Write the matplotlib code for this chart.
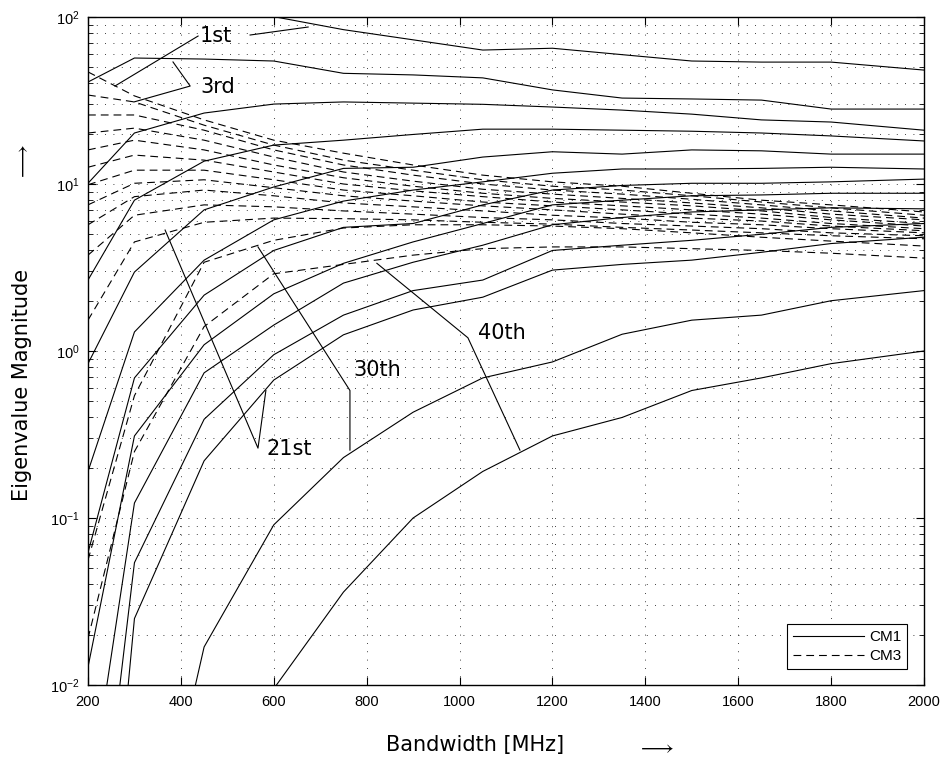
import matplotlib
matplotlib.use("Agg")
import matplotlib.pyplot as plt
from matplotlib.ticker import LogLocator, NullFormatter, MultipleLocator

plt.rcParams["mathtext.fontset"] = "custom"
plt.rcParams["mathtext.rm"] = "Liberation Sans"
plt.rcParams["mathtext.it"] = "Liberation Sans:italic"

# Bandwidth samples [MHz]
bandwidth = [200, 300, 450, 600, 750, 900, 1050, 1200, 1350, 1500, 1650, 1800, 2000]

# CM1 eigenvalues (solid)
cm1_ev01 = [160, 140, 118, 100.5, 84, 73, 63.4, 65, 59.5, 54.5, 53.7, 53.7, 48.1]
cm1_ev03 = [40.8, 56.8, 56, 54.5, 46, 45, 43.2, 36.6, 32.7, 32.3, 31.8, 28.1, 28.1]
cm1_ev05 = [10.1, 20.2, 26.6, 30.1, 31.0, 30.5, 30.0, 28.9, 27.7, 26.2, 24.2, 23.5, 21.0]
cm1_ev07 = [2.66, 8.0, 13.7, 17.1, 18.3, 19.8, 21.3, 21.3, 21.0, 20.7, 20.2, 19.4, 18.1]
cm1_ev09 = [0.84, 2.97, 7.0, 9.6, 12.4, 12.6, 14.5, 15.6, 15.1, 16.0, 15.8, 15.1, 15.1]
cm1_ev11 = [0.19, 1.3, 3.5, 6.1, 7.9, 9.2, 10.3, 11.6, 12.3, 12.3, 12.4, 12.6, 12.3]
cm1_ev13 = [0.062, 0.69, 2.16, 4.0, 5.5, 5.8, 7.5, 9.2, 9.8, 10.1, 10.1, 10.3, 10.7]
cm1_ev15 = [0.0128, 0.31, 1.09, 2.2, 3.35, 4.5, 5.8, 7.5, 8.0, 8.5, 8.6, 8.8, 8.8]
cm1_ev17 = [0.0018, 0.123, 0.74, 1.43, 2.55, 3.4, 4.3, 5.7, 6.3, 6.8, 7.0, 7.2, 7.1]
cm1_ev19 = [2.5e-4, 0.054, 0.39, 0.95, 1.64, 2.3, 2.66, 4.0, 4.3, 4.6, 5.0, 5.5, 5.8]
cm1_ev21 = [2.8e-5, 0.025, 0.22, 0.67, 1.25, 1.76, 2.1, 3.05, 3.3, 3.5, 3.9, 4.4, 4.8]
cm1_ev30 = [1e-6, 2.5e-4, 0.0169, 0.091, 0.23, 0.43, 0.69, 0.86, 1.26, 1.53, 1.64, 2.0, 2.3]
cm1_ev40 = [1e-8, 1e-6, 1e-4, 0.0095, 0.036, 0.1, 0.19, 0.31, 0.40, 0.58, 0.69, 0.84, 1.0]

# CM3 eigenvalues (dashed)
cm3_ev01 = [46.9, 33.7, 24.2, 18.3, 15.3, 13.0, 11.3, 10.3, 9.7, 8.8, 8.0, 7.5, 6.8]
cm3_ev03 = [34.1, 31.0, 22.5, 17.1, 13.9, 12.1, 10.6, 9.7, 9.2, 8.5, 7.8, 7.2, 6.5]
cm3_ev05 = [25.9, 25.9, 21.0, 16.0, 13.0, 11.3, 10.0, 9.2, 8.7, 8.1, 7.5, 6.9, 6.25]
cm3_ev07 = [20.2, 21.6, 18.3, 14.5, 11.8, 10.4, 9.3, 8.7, 8.2, 7.7, 7.2, 6.6, 6.1]
cm3_ev09 = [16.0, 18.3, 16.0, 13.0, 10.9, 9.7, 8.8, 8.2, 7.8, 7.4, 6.9, 6.3, 5.8]
cm3_ev11 = [12.6, 14.9, 13.9, 11.8, 10.0, 9.1, 8.4, 7.8, 7.4, 7.0, 6.6, 6.1, 5.6]
cm3_ev13 = [9.9, 12.1, 12.1, 10.6, 9.2, 8.5, 7.8, 7.4, 7.0, 6.6, 6.25, 5.8, 5.4]
cm3_ev15 = [7.5, 10.1, 10.6, 9.5, 8.5, 7.9, 7.4, 7.0, 6.6, 6.25, 6.0, 5.6, 5.25]
cm3_ev17 = [5.7, 8.4, 9.2, 8.5, 7.7, 7.3, 6.9, 6.5, 6.25, 5.9, 5.7, 5.4, 5.1]
cm3_ev19 = [3.75, 6.5, 7.5, 7.3, 6.9, 6.6, 6.3, 6.1, 5.8, 5.6, 5.4, 5.1, 4.9]
cm3_ev21 = [1.53, 4.5, 5.9, 6.25, 6.2, 6.1, 5.9, 5.75, 5.5, 5.3, 5.1, 4.9, 4.7]
cm3_ev30 = [0.056, 0.54, 3.4, 4.6, 5.45, 5.7, 5.7, 5.6, 5.4, 5.1, 4.8, 4.55, 4.25]
cm3_ev40 = [0.019, 0.25, 1.4, 2.9, 3.3, 3.75, 4.1, 4.2, 4.2, 4.1, 4.0, 3.85, 3.6]

cm1_curves = [cm1_ev01, cm1_ev03, cm1_ev05, cm1_ev07, cm1_ev09, cm1_ev11, cm1_ev13,
              cm1_ev15, cm1_ev17, cm1_ev19, cm1_ev21, cm1_ev30, cm1_ev40]
cm3_curves = [cm3_ev01, cm3_ev03, cm3_ev05, cm3_ev07, cm3_ev09, cm3_ev11, cm3_ev13,
              cm3_ev15, cm3_ev17, cm3_ev19, cm3_ev21, cm3_ev30, cm3_ev40]

series_names = ["CM1", "CM3"]

fig = plt.figure(figsize=(9.48, 7.71), dpi=100)
ax = fig.add_axes([88 / 948, 1 - 685 / 771, 836 / 948, 668 / 771])

for i, ys in enumerate(cm1_curves):
    ax.plot(bandwidth, ys, color="black", lw=0.8,
            label=series_names[0] if i == 0 else None)
for i, ys in enumerate(cm3_curves):
    ax.plot(bandwidth, ys, color="black", lw=0.8, linestyle=(0, (7, 4.5)),
            label=series_names[1] if i == 0 else None)

ax.set_yscale("log")
ax.set_xlim(200, 2000)
ax.set_ylim(1e-2, 1e2)
ax.xaxis.set_major_locator(MultipleLocator(200))
ax.yaxis.set_major_locator(LogLocator(base=10, numticks=10))
ax.yaxis.set_minor_locator(LogLocator(base=10, subs=range(2, 10), numticks=20))
ax.yaxis.set_minor_formatter(NullFormatter())

dots = (0, (1, 9))
ax.grid(which="major", axis="both", linestyle=dots, color="black", lw=0.6)
ax.grid(which="minor", axis="y", linestyle=dots, color="black", lw=0.6)

ax.tick_params(which="both", direction="in", top=True, right=True, labelsize=10.5)
ax.tick_params(axis="x", pad=7)
ax.tick_params(axis="y", pad=6)
ax.tick_params(which="major", length=6, width=0.8)
ax.tick_params(which="minor", length=3.5, width=0.6)
for lbl in ax.get_xticklabels() + ax.get_yticklabels():
    lbl.set_family("Liberation Sans")
for s in ax.spines.values():
    s.set_linewidth(1.0)

# Order labels with leader lines
ann_kw = dict(fontsize=15, va="center", ha="left")
line_kw = dict(color="black", lw=0.8)

ax.text(440, 76.9, "1st", **ann_kw)
ax.plot([437, 258], [76.9, 38.6], **line_kw)
ax.plot([549, 674], [78, 87.1], **line_kw)

ax.text(441, 38.1, "3rd", **ann_kw)
ax.plot([383, 420, 299], [53.8, 38.6, 31.0], **line_kw)

ax.text(585, 0.259, "21st", **ann_kw)
ax.plot([366, 566, 583], [5.3, 0.262, 0.58], **line_kw)

ax.text(771, 0.77, "30th", **ann_kw)
ax.plot([566, 764, 764], [4.2, 0.58, 0.255], **line_kw)

ax.text(1040, 1.28, "40th", **ann_kw)
ax.plot([822, 1018, 1130], [3.35, 1.2, 0.255], **line_kw)

leg = ax.legend(loc="lower right", bbox_to_anchor=(0.98, 0.024), borderaxespad=0,
                fancybox=False, framealpha=1, edgecolor="black",
                prop={"family": "Liberation Sans", "size": 11},
                handlelength=4.6, handletextpad=0.35, borderpad=0.4, labelspacing=0.3)
leg.get_frame().set_linewidth(0.8)

fig.text(475 / 948, 1 - 745 / 771, "Bandwidth [MHz]", fontsize=15, ha="center", va="center")
fig.text(656 / 948, 1 - 747 / 771, "$\\longrightarrow$", fontsize=15, ha="center", va="center")
fig.text(22 / 948, 1 - 385 / 771, "Eigenvalue Magnitude", fontsize=15, ha="center", va="center",
         rotation=90)
fig.text(22 / 948, 1 - 162 / 771, "$\\longrightarrow$", fontsize=15, ha="center", va="center",
         rotation=90)

fig.savefig("out.png", dpi=100)
